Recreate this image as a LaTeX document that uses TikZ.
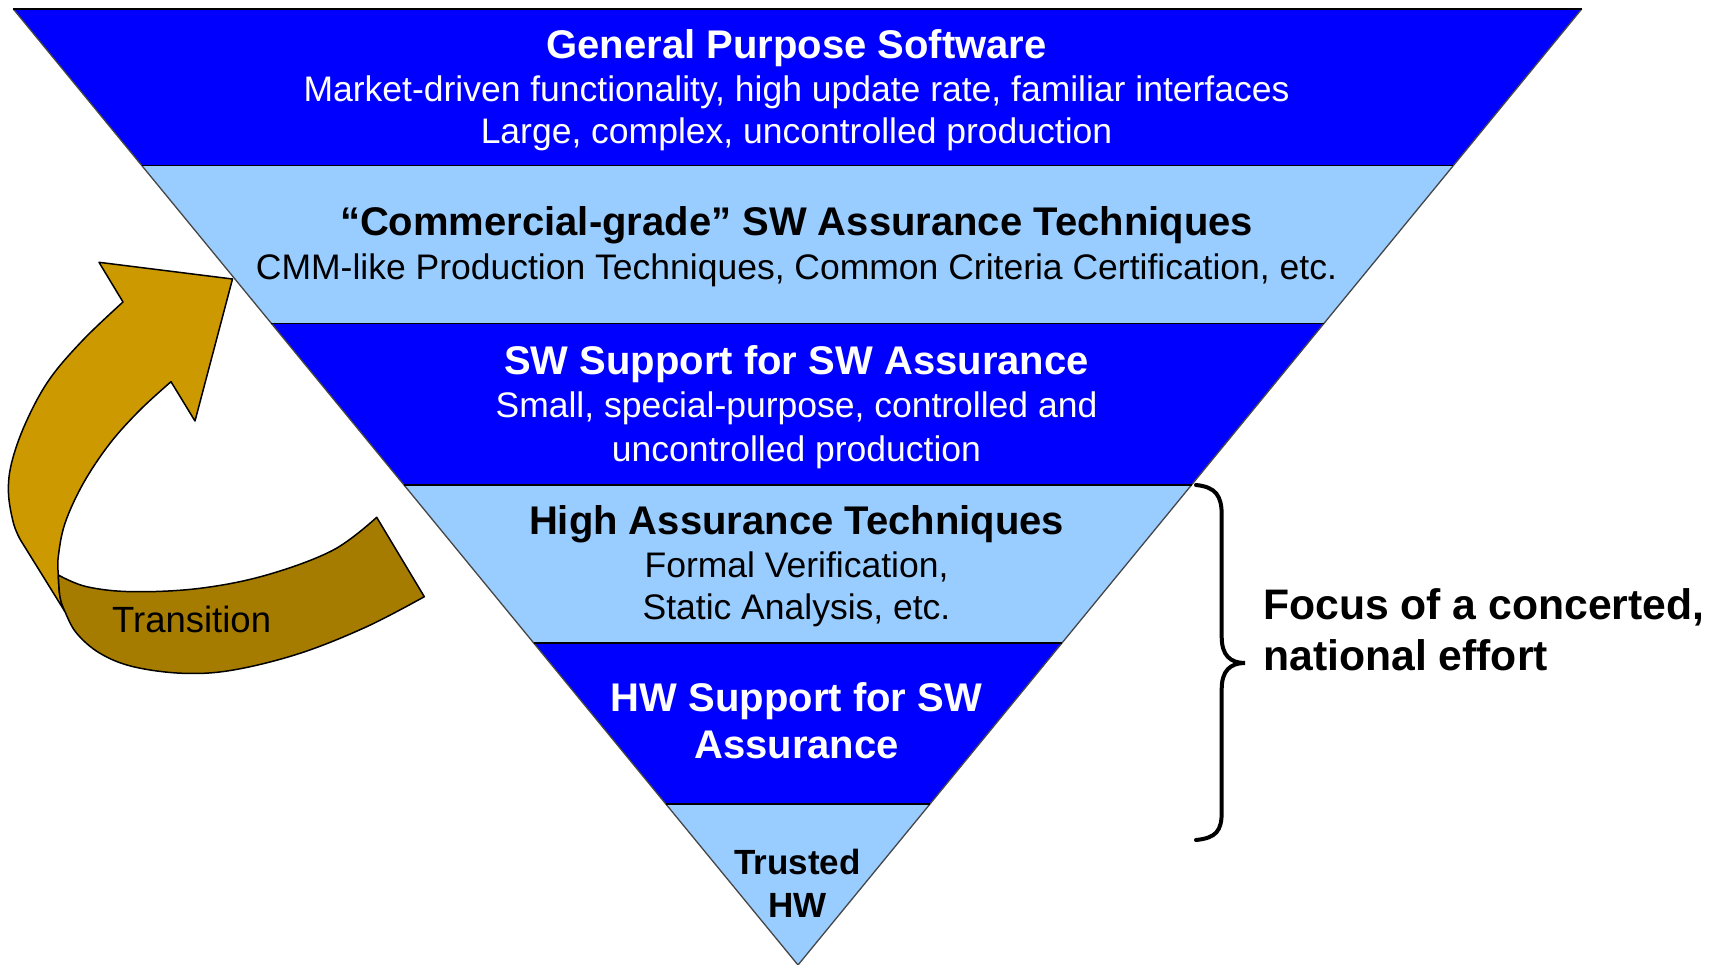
\documentclass[tikz,border=0pt]{standalone}
\usepackage{fontspec}
\setmainfont{Liberation Sans}
\usetikzlibrary{calc}
\definecolor{dblue}{RGB}{0,0,255}
\definecolor{lblue}{RGB}{153,204,255}
\definecolor{gold}{RGB}{204,153,0}
\definecolor{dgold}{RGB}{166,124,0}
\definecolor{edgegray}{RGB}{70,70,70}
\tikzset{
  ttl/.style={font=\bfseries\fontsize{40}{48}\selectfont, anchor=base, inner sep=0pt},
  sub/.style={font=\fontsize{35.5}{43}\selectfont, anchor=base, inner sep=0pt},
  sepline/.style={draw=black, line width=1.6pt},
  edgeline/.style={draw=edgegray, line width=1.3pt},
  ribbon/.style={draw=black, line width=1.5pt, line join=round},
  bracestyle/.style={draw=black, line width=4pt, line cap=round},
}
\begin{document}
\begin{tikzpicture}[x=1pt,y=-1pt]
\useasboundingbox (0,0) rectangle (1715,965);
\coordinate (TL) at (13.3,9);
\coordinate (TR) at (1581.7,9);
\coordinate (A) at (798,965);
\coordinate (L1) at ($(TL)!0.1637!(A)$);
\coordinate (R1) at ($(TR)!0.1637!(A)$);
\coordinate (L2) at ($(TL)!0.3290!(A)$);
\coordinate (R2) at ($(TR)!0.3290!(A)$);
\coordinate (L3) at ($(TL)!0.4979!(A)$);
\coordinate (R3) at ($(TR)!0.4979!(A)$);
\coordinate (L4) at ($(TL)!0.6632!(A)$);
\coordinate (R4) at ($(TR)!0.6632!(A)$);
\coordinate (L5) at ($(TL)!0.8316!(A)$);
\coordinate (R5) at ($(TR)!0.8316!(A)$);
% bands
\fill[dblue] (TL) -- (TR) -- (R1) -- (L1) -- cycle;
\fill[lblue] (L1) -- (R1) -- (R2) -- (L2) -- cycle;
\fill[dblue] (L2) -- (R2) -- (R3) -- (L3) -- cycle;
\fill[lblue] (L3) -- (R3) -- (R4) -- (L4) -- cycle;
\fill[dblue] (L4) -- (R4) -- (R5) -- (L5) -- cycle;
\fill[lblue] (L5) -- (R5) -- (A) -- cycle;
\draw[edgeline] (TL) -- (A) -- (TR);
\draw[sepline] (TL) -- (TR);
\draw[sepline] (L1) -- (R1);
\draw[sepline] (L2) -- (R2);
\draw[sepline] (L3) -- (R3);
\draw[sepline] (L4) -- (R4);
\draw[sepline] (L5) -- (R5);
% band texts
\node[ttl, text=white] (b1a) at (796.5,59) {General Purpose Software};
\node[sub, text=white] (b1b) at (796.5,101.5) {Market-driven functionality, high update rate, familiar interfaces};
\node[sub, text=white] (b1c) at (796.5,144) {Large, complex, uncontrolled production};
\node[ttl, text=black] (b2a) at (796.5,235.5) {“Commercial-grade” SW Assurance Techniques};
\node[sub, text=black] (b2b) at (796.5,279.5) {CMM-like Production Techniques, Common Criteria Certification, etc.};
\node[ttl, text=white] (b3a) at (796.5,374) {SW Support for SW Assurance};
\node[sub, text=white] (b3b) at (796.5,417.2) {Small, special-purpose, controlled and};
\node[sub, text=white] (b3c) at (796.5,461.2) {uncontrolled production};
\node[ttl, text=black] (b4a) at (796.5,534) {High Assurance Techniques};
\node[sub, text=black] (b4b) at (796.5,577.5) {Formal Verification,};
\node[sub, text=black] (b4c) at (796.5,619.6) {Static Analysis, etc.};
\node[ttl, text=white] (b5a) at (796.5,711.5) {HW Support for SW};
\node[ttl, text=white] (b5b) at (796.5,758.5) {Assurance};
\node[ttl, text=black, font=\bfseries\fontsize{35}{42}\selectfont] (b6a) at (797.5,874.9) {Trusted};
\node[ttl, text=black, font=\bfseries\fontsize{35}{42}\selectfont] (b6b) at (797.5,917.2) {HW};
% transition arrow (front, gold part)
\path[ribbon, fill=gold] (123,302) -- (99,262.3) -- (232.5,279) -- (195,421) -- (171,381.7)
  -- plot[smooth, tension=0.6] coordinates {(171,381.7) (140,410) (110,443.3) (83.3,483.3) (65,523.3) (58.3,556.7) (58.3,575) (60,596.7) (65,611.7)}
  -- plot[smooth, tension=0.6] coordinates {(20.5,540) (13.5,523.3) (8.5,493.3) (11.5,463.3) (25.5,423.3) (49,380) (83,340) (123,302)}
  -- cycle;
% back, dark part
\path[ribbon, fill=dgold] plot[smooth, tension=0.6] coordinates {(58.3,575) (86.7,586.7) (133.3,591.7) (200,588.3) (266.7,575) (333.3,550) (376.7,517.3)}
  -- (424.3,596.7)
  -- plot[smooth, tension=0.6] coordinates {(424.3,596.7) (366.7,626.7) (300,653.3) (233.3,670) (183.3,673.3) (133.3,666.7) (100,653.3) (76.7,633.3) (65,611.7) (60,596.7) (58.3,575)}
  -- cycle;
\node[anchor=base west, inner sep=0pt, font=\fontsize{36.5}{44}\selectfont] (trans) at (112,632.5) {Transition};
% brace
\draw[bracestyle] (1196,485) .. controls (1216,487) and (1221.7,496) .. (1221.7,515)
  -- (1221.7,637) .. controls (1221.7,655) and (1230,663) .. (1245,663)
  .. controls (1230,663) and (1221.7,671) .. (1221.7,689)
  -- (1221.7,812) .. controls (1221.7,831) and (1216,838) .. (1196,840);
\node[anchor=base west, inner sep=0pt, font=\bfseries\fontsize{42.7}{50}\selectfont] (focus1) at (1263,619) {Focus of a concerted,};
\node[anchor=base west, inner sep=0pt, font=\bfseries\fontsize{42.7}{50}\selectfont] (focus2) at (1263,670) {national effort};
\end{tikzpicture}
\end{document}
